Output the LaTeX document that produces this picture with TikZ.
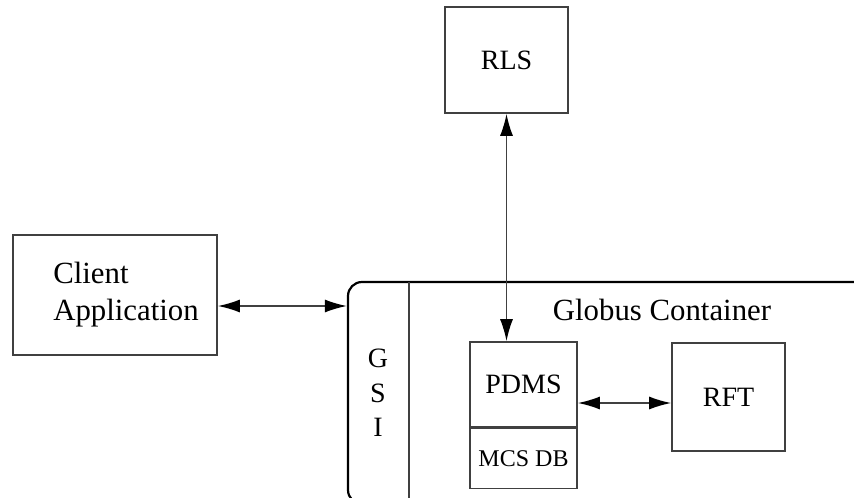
\documentclass[tikz,border=0pt]{standalone}
\usepackage{fontspec}
\setmainfont{Liberation Serif}
\usepackage{tikz}
\usetikzlibrary{positioning, arrows.meta}

\begin{document}
\begin{tikzpicture}[x=1pt, y=-1pt, every node/.style={font=\fontsize{14}{17.25}\selectfont}]
            % styles
            \tikzstyle{box} = [rectangle, draw=black!75, line width=0.8pt, text centered, inner sep=0pt]
            \tikzstyle{arrow} = [line width=0.8pt, {Latex[length=11pt,width=6.5pt,color=black]}-{Latex[length=11pt,width=6.5pt,color=black]}, draw=black!75]
            \tikzstyle{container} = [rectangle, draw=black, line width=1.1pt, rounded corners=7pt, inner sep=0pt]

            \useasboundingbox (0,0) rectangle (427,248.5);

            % globus container (cut off at the right and bottom)
            \node (globus) [container, minimum width=266pt, minimum height=111pt] at (307,196.5) {};
            \node (globustext) [font=\fontsize{15.4}{18}\selectfont] at (331,155) {Globus Container};
            \coordinate (gsitop) at (204.5,141);
            \coordinate (gsibot) at (204.5,252);
            \draw [draw=black!75, line width=0.8pt] (gsitop) -- (gsibot);
            \node (gsi) [align=center] at (189,196.5) {G\\S\\I};

            % boxes
            \node (rls) [box, minimum width=61.5pt, minimum height=53pt] at (253.25,30) {RLS};
            \node (client) [box, minimum width=102pt, minimum height=60pt] at (57.5,147.5) {};
            \node (clienttext) [align=left, anchor=west, font=\fontsize{15.4}{18.5}\selectfont] at ([xshift=17pt]client.west) {Client\\Application};
            \node (pdms) [box, minimum width=53.5pt, minimum height=42.5pt] at (261.75,192.25) {PDMS};
            \node (mcsdb) [box, minimum width=53.5pt, minimum height=30pt, below=0pt of pdms, font=\fontsize{12}{14}\selectfont] {MCS DB};
            \node (rft) [box, minimum width=56.5pt, minimum height=54pt] at (364.25,198.5) {RFT};

            % connections
            \draw [arrow] ([yshift=-5.5pt]client.east) -- ([yshift=-5.5pt]client.east -| globus.west);
            \draw [arrow] (rls.south) -- (rls.south |- pdms.north);
            \draw [arrow] ([yshift=-3pt]pdms.east |- rft.west) -- ([yshift=-3pt]rft.west);
        \end{tikzpicture}
\end{document}
